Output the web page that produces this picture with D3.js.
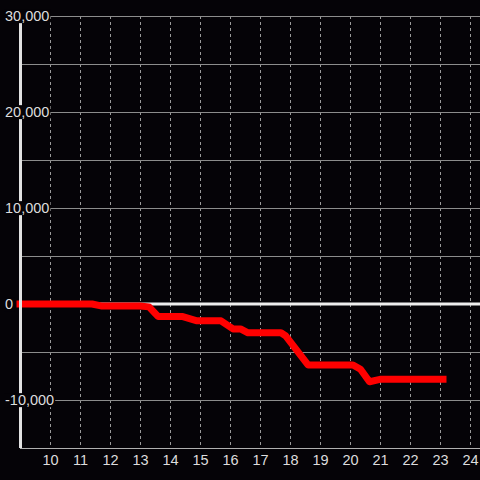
<!DOCTYPE html>
<html>
<head>
<meta charset="utf-8">
<script src="https://cdn.jsdelivr.net/npm/d3@7"></script>
<style>
  html, body { margin: 0; padding: 0; background: #050307; }
  svg { display: block; font-family: "Liberation Sans", Arial, sans-serif; }
</style>
</head>
<body>
<div id="chart"></div>
<script>
// hours of day and running total
const hours = [9, 11.4, 11.7, 13.0, 13.3, 13.6, 14.4, 14.9, 15.7, 16.1, 16.35, 16.6, 17.7, 17.85, 18.6, 20.1, 20.35, 20.65, 21.0, 23.1];
const totals = [0, 0, -200, -200, -300, -1300, -1300, -1750, -1750, -2600, -2600, -3000, -3000, -3300, -6350, -6350, -6800, -8100, -7850, -7850];

const xTicks = [10, 11, 12, 13, 14, 15, 16, 17, 18, 19, 20, 21, 22, 23, 24];
const yGrid = [-10000, -5000, 5000, 10000, 15000, 20000, 25000, 30000];
const yLabels = [-10000, 0, 10000, 20000, 30000];

const width = 480, height = 480;
const x = d3.scaleLinear().domain([9, 24 + 1 / 3]).range([20, 480]);
const y = d3.scaleLinear().domain([-15000, 30000]).range([448, 16]);

const svg = d3.select('#chart').append('svg')
  .attr('width', width)
  .attr('height', height);

svg.append('rect').attr('width', width).attr('height', height).attr('fill', '#050307');

// vertical dashed grid
svg.append('g').selectAll('line')
  .data(xTicks)
  .enter().append('line')
  .attr('x1', d => Math.round(x(d)) + 0.5)
  .attr('x2', d => Math.round(x(d)) + 0.5)
  .attr('y1', y(30000))
  .attr('y2', y(-15000))
  .attr('stroke', '#9a9a9a')
  .attr('stroke-width', 1)
  .attr('stroke-dasharray', '3,3');

// horizontal grid
svg.append('g').selectAll('line')
  .data(yGrid)
  .enter().append('line')
  .attr('x1', x(9))
  .attr('x2', width)
  .attr('y1', d => Math.round(y(d)) + 0.5)
  .attr('y2', d => Math.round(y(d)) + 0.5)
  .attr('stroke', '#8c8c8c')
  .attr('stroke-width', 1);

// zero line
svg.append('line')
  .attr('x1', x(9)).attr('x2', width)
  .attr('y1', y(0)).attr('y2', y(0))
  .attr('stroke', '#eeeeee')
  .attr('stroke-width', 3);

// bottom axis line
svg.append('line')
  .attr('x1', x(9)).attr('x2', width)
  .attr('y1', y(-15000) + 0.5).attr('y2', y(-15000) + 0.5)
  .attr('stroke', '#b0b0b0')
  .attr('stroke-width', 1);

// data line
const line = d3.line()
  .x((d, i) => x(hours[i]))
  .y(d => y(d));

svg.append('path')
  .datum(totals)
  .attr('d', line)
  .attr('fill', 'none')
  .attr('stroke', '#ff0000')
  .attr('stroke-width', 7)
  .attr('stroke-linejoin', 'round')
  .attr('stroke-linecap', 'square');

// left axis line, above the data line
svg.append('line')
  .attr('x1', x(9) + 0.5).attr('x2', x(9) + 0.5)
  .attr('y1', y(30000)).attr('y2', y(-15000))
  .attr('stroke', '#e2e2e2')
  .attr('stroke-width', 3);

// y labels with black boxes over the axis
const fmt = d => d3.format(',')(d).replace('\u2212', '-');
const yAxis = svg.append('g')
  .attr('transform', 'translate(5,0)')
  .call(d3.axisRight(y).tickValues(yLabels).tickSize(0).tickPadding(0).tickFormat(fmt));
yAxis.select('.domain').remove();
yAxis.selectAll('text')
  .attr('fill', '#dddddd')
  .attr('font-size', '14.5px')
  .attr('font-family', '"Liberation Sans", Arial, sans-serif')
  .attr('text-anchor', 'start');
yAxis.selectAll('.tick').each(function () {
  const t = d3.select(this).select('text');
  const b = t.node().getBBox();
  d3.select(this).insert('rect', 'text')
    .attr('x', b.x - 1)
    .attr('y', b.y + 1)
    .attr('width', b.width + 2)
    .attr('height', b.height - 2)
    .attr('fill', '#050307');
});

// x labels
const xAxis = svg.append('g')
  .attr('transform', 'translate(0,' + 455 + ')')
  .call(d3.axisBottom(x).tickValues(xTicks).tickSize(0).tickPadding(0).tickFormat(d3.format('d')));
xAxis.select('.domain').remove();
xAxis.selectAll('text')
  .attr('fill', '#dddddd')
  .attr('font-size', '14.5px')
  .attr('font-family', '"Liberation Sans", Arial, sans-serif');
</script>
</body>
</html>
